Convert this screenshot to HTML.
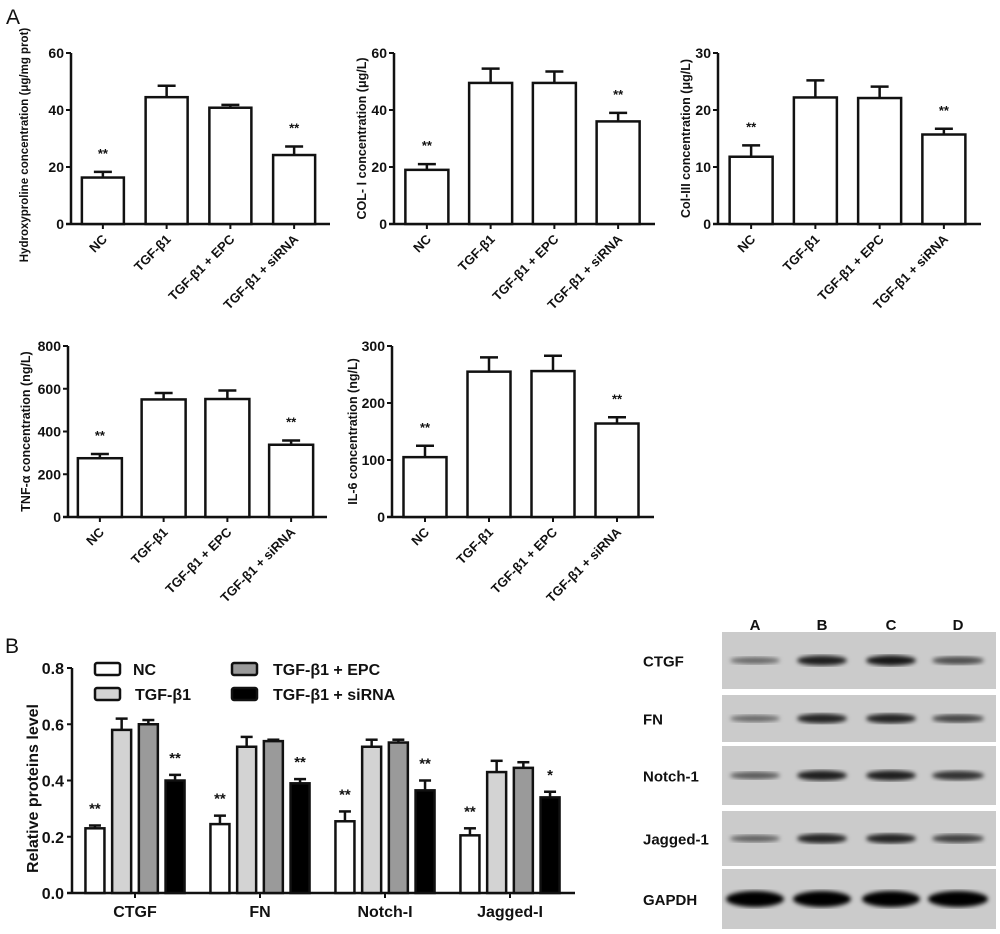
<!DOCTYPE html>
<html><head><meta charset="utf-8">
<style>
body{margin:0;background:#fff;}
svg{display:block;font-family:"Liberation Sans",sans-serif;}
text{font-weight:bold;fill:#111;}
</style></head>
<body>
<svg id="fig" width="1000" height="934" viewBox="0 0 1000 934" xmlns="http://www.w3.org/2000/svg">
<text x="6" y="24" font-size="21" style="font-weight:normal">A</text>
<text x="5" y="653" font-size="21" style="font-weight:normal">B</text>
<g id="blot"></g>
</svg>
<script>
const NS="http://www.w3.org/2000/svg";
const svg=document.getElementById('fig');
function mk(tag,attrs,parent){const e=document.createElementNS(NS,tag);for(const k in attrs)e.setAttribute(k,attrs[k]);(parent||svg).appendChild(e);return e;}

// ---- Panel A data ----
const groups=["NC","TGF-β1","TGF-β1 + EPC","TGF-β1 + siRNA"];
const hypVals=[16.3,44.5,40.8,24.2];
const hypErr=[2,4,1,3];
const hypSig=["**","","","**"];
const colIVals=[19,49.5,49.5,36];
const colIErr=[2,5,4,3];
const colISig=["**","","","**"];
const colIIIVals=[11.8,22.2,22.1,15.7];
const colIIIErr=[2,3,2,1];
const colIIISig=["**","","","**"];
const tnfVals=[275,550,552,338];
const tnfErr=[20,30,40,20];
const tnfSig=["**","","","**"];
const il6Vals=[105,255,256,164];
const il6Err=[20,25,27,11];
const il6Sig=["**","","","**"];
const ticks60=[0,20,40,60];
const ticks30=[0,10,20,30];
const ticks800=[0,200,400,600,800];
const ticks300=[0,100,200,300];

// ---- Panel B data ----
const proteins=["CTGF","FN","Notch-I","Jagged-I"];
const seriesNames=["NC","TGF-β1","TGF-β1 + EPC","TGF-β1 + siRNA"];
const ncVals=[0.23,0.245,0.255,0.205];
const ncErr=[0.01,0.03,0.035,0.025];
const tgfVals=[0.58,0.52,0.52,0.43];
const tgfErr=[0.04,0.035,0.025,0.04];
const epcVals=[0.60,0.54,0.535,0.445];
const epcErr=[0.015,0.005,0.01,0.02];
const siVals=[0.40,0.39,0.365,0.34];
const siErr=[0.02,0.015,0.035,0.02];
const ncSig=["**","**","**","**"];
const siSig=["**","**","**","*"];
const bTicks=[0,0.2,0.4,0.6,0.8];

function panelA(cfg){
  const g=mk('g',{});
  
  
  const ymax=cfg.ticks[cfg.ticks.length-1];
  const y=v=>cfg.y0-(v/ymax)*(cfg.y0-cfg.y1);
  const step=(cfg.xe-cfg.x0-cfg.pad)/4;
  const bw=cfg.bw;
  const xc=i=>cfg.x0+cfg.pad/2+step*(i+0.5)-2;
  const ya=mk('line',{x1:cfg.x0,y1:cfg.y1,x2:cfg.x0,y2:cfg.y0,stroke:'#111','stroke-width':2.5},g);
  
  const xa=mk('line',{x1:cfg.x0-5,y1:cfg.y0,x2:cfg.xe,y2:cfg.y0,stroke:'#111','stroke-width':2.5},g);
  
  cfg.ticks.forEach(t=>{
    mk('line',{x1:cfg.x0-5,y1:y(t),x2:cfg.x0,y2:y(t),stroke:'#111','stroke-width':2},g);
    const tl=mk('text',{x:cfg.x0-7,y:y(t)+5,'font-size':14,'text-anchor':'end'},g);
    tl.textContent=t;
    
  });
  const yt=mk('text',{x:0,y:0,'font-size':cfg.tfs||12.5,'text-anchor':'middle',transform:`translate(${cfg.tx},${cfg.ty||(cfg.y0+cfg.y1)/2}) rotate(-90)`},g);
  yt.textContent=cfg.title;
  
  cfg.vals.forEach((v,i)=>{
    const cx=xc(i);
    const r=mk('rect',{x:cx-bw/2,y:y(v),width:bw,height:cfg.y0-y(v),fill:'#fff',stroke:'#111','stroke-width':2.5},g);
    
    
    const et=y(v+cfg.err[i]);
    const e1=mk('line',{x1:cx,y1:y(v),x2:cx,y2:et,stroke:'#111','stroke-width':2.5},g);
    
    mk('line',{x1:cx-9,y1:et,x2:cx+9,y2:et,stroke:'#111','stroke-width':2.5},g);
    if(cfg.sig[i]){const s=mk('text',{x:cx,y:et-14,'font-size':13,'text-anchor':'middle'},g);s.textContent=cfg.sig[i];
      }
    mk('line',{x1:cx,y1:cfg.y0,x2:cx,y2:cfg.y0+5,stroke:'#111','stroke-width':2},g);
    const xl=mk('text',{x:0,y:0,'font-size':13,'text-anchor':'end',transform:`translate(${cx+5},${cfg.y0+16}) rotate(-45)`},g);
    xl.textContent=groups[i];
    
  });
}
panelA({name:'hydroxyproline-chart',x0:71,xe:330,pad:4,bw:42,y0:224,y1:53,ticks:ticks60,vals:hypVals,err:hypErr,sig:hypSig,title:'Hydroxyproline concentration (μg/mg prot)',tx:28,ty:145,tfs:11.5});
panelA({name:'col-i-chart',x0:394,xe:655,pad:6,bw:43,y0:224,y1:53,ticks:ticks60,vals:colIVals,err:colIErr,sig:colISig,title:'COL- Ⅰ concentration (μg/L)',tx:366});
panelA({name:'col-iii-chart',x0:718,xe:981,pad:6,bw:43,y0:224,y1:53,ticks:ticks30,vals:colIIIVals,err:colIIIErr,sig:colIIISig,title:'Col-III concentration (μg/L)',tx:690});
panelA({name:'tnf-alpha-chart',x0:68,xe:327,pad:4,bw:44,y0:517,y1:346,ticks:ticks800,vals:tnfVals,err:tnfErr,sig:tnfSig,title:'TNF-α concentration (ng/L)',tx:30});
panelA({name:'il-6-chart',x0:392,xe:654,pad:6,bw:43,y0:517,y1:346,ticks:ticks300,vals:il6Vals,err:il6Err,sig:il6Sig,title:'IL-6 concentration (ng/L)',tx:357});

// ---- Panel B ----
(function(){
  const g=mk('g',{});
  
  const x0=72,xe=575,y0=893,y1=668;
  const y=v=>y0-(v/0.8)*(y0-y1);
  const fills=['#fff','#d3d3d3','#9a9a9a','#000'];
  const sVals=[ncVals,tgfVals,epcVals,siVals];
  const sErr=[ncErr,tgfErr,epcErr,siErr];
  const ya=mk('line',{x1:x0,y1:y1,x2:x0,y2:y0,stroke:'#111','stroke-width':2.5},g);
  
  const xa=mk('line',{x1:x0-5,y1:y0,x2:xe,y2:y0,stroke:'#111','stroke-width':2.5},g);
  
  bTicks.forEach(t=>{
    mk('line',{x1:x0-5,y1:y(t),x2:x0,y2:y(t),stroke:'#111','stroke-width':2},g);
    const tl=mk('text',{x:x0-8,y:y(t)+6,'font-size':16,'text-anchor':'end'},g);
    tl.textContent=t.toFixed(1);
    
  });
  const yt=mk('text',{x:0,y:0,'font-size':16,'text-anchor':'middle',transform:`translate(38,${(y0+y1)/2+8}) rotate(-90)`},g);
  yt.textContent='Relative proteins level';
  
  const gs=125, bw=19, bs=26.7;
  proteins.forEach((p,gi)=>{
    const gc=135+gi*gs;
    mk('line',{x1:gc,y1:y0,x2:gc,y2:y0+5,stroke:'#111','stroke-width':2},g);
    const xl=mk('text',{x:gc,y:y0+24,'font-size':16,'text-anchor':'middle'},g);
    xl.textContent=p;
    
    for(let s=0;s<4;s++){
      const cx=gc+(s-1.5)*bs;
      const v=sVals[s][gi];
      const r=mk('rect',{x:cx-bw/2,y:y(v),width:bw,height:y0-y(v),fill:fills[s],stroke:'#111','stroke-width':2.5},g);
      
      const et=y(v+sErr[s][gi]);
      const e=mk('line',{x1:cx,y1:y(v),x2:cx,y2:et,stroke:'#111','stroke-width':2.5},g);
      
      mk('line',{x1:cx-6,y1:et,x2:cx+6,y2:et,stroke:'#111','stroke-width':2.5},g);
      const sig=s===0?ncSig[gi]:(s===3?siSig[gi]:'');
      if(sig){const st=mk('text',{x:cx,y:et-12,'font-size':15,'text-anchor':'middle'},g);st.textContent=sig;
        }
    }
  });
  const lx=[95,95,232,232], ly=[669,694,669,694], tx=[133,135,273,273];
  seriesNames.forEach((n,i)=>{
    const r=mk('rect',{x:lx[i],y:ly[i]-6,width:25,height:12,fill:fills[i],stroke:'#111','stroke-width':2.5,rx:2},g);
    
    const t=mk('text',{x:tx[i],y:ly[i]+6,'font-size':16},g);t.textContent=n;
    
  });
})();

// ---- Western blot ----
(function(){
  const g=document.getElementById('blot');
  const rows=["CTGF","FN","Notch-1","Jagged-1","GAPDH"];
  const ry=[[632,689],[695,742],[746,805],[811,866],[869,929]];
  const lanes=["A","B","C","D"];
  const laneX=[755,822,891,958], laneW=[50,50,50,52];
  const intens=[[0.3,0.85,0.9,0.5],[0.3,0.8,0.8,0.55],[0.4,0.85,0.85,0.7],[0.35,0.8,0.8,0.6],[1,1,1,1]];
  lanes.forEach((l,i)=>{const t=mk('text',{x:laneX[i],y:630,'font-size':15,'text-anchor':'middle'},g);t.textContent=l;
    });
  const defs=mk('defs',{},g);
  const f=mk('filter',{id:'bl'},defs);mk('feGaussianBlur',{stdDeviation:2},f);
  rows.forEach((r,ri)=>{
    const [a,b]=ry[ri];
    const bg=mk('rect',{x:722,y:a,width:274,height:b-a,fill:'#cbcbcb'},g);
    
    const t=mk('text',{x:643,y:(a+b)/2+6,'font-size':15},g);t.textContent=r;
    
    laneX.forEach((cx,li)=>{
      const k=intens[ri][li];
      const h=ri===4?16:5+6*k;
      const e=mk('ellipse',{cx:cx,cy:(a+b)/2,rx:laneW[li]/2+(ri===4?4:0),ry:h/2,fill:`rgba(0,0,0,${ri===4?1:0.3+0.65*k})`,filter:'url(#bl)'},g);
      
    });
  });
})();
</script>
</body></html>
